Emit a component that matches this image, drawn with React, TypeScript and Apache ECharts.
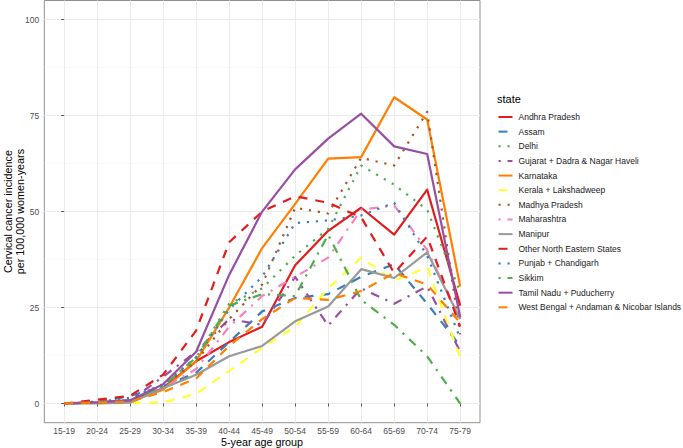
import React, { useEffect, useRef } from "react";
import * as echarts from "echarts";

const ageGroups = ["15-19", "20-24", "25-29", "30-34", "35-39", "40-44", "45-49", "50-54", "55-59", "60-64", "65-69", "70-74", "75-79"];

const stateNames = [
  "Andhra Pradesh",
  "Assam",
  "Delhi",
  "Gujarat + Dadra & Nagar Haveli",
  "Karnataka",
  "Kerala + Lakshadweep",
  "Madhya Pradesh",
  "Maharashtra",
  "Manipur",
  "Other North Eastern States",
  "Punjab + Chandigarh",
  "Sikkim",
  "Tamil Nadu + Puducherry",
  "West Bengal + Andaman & Nicobar Islands",
];

const andhraPradesh = [0, 0.3, 0.8, 4, 11, 16, 20, 36, 45, 51, 44, 55.7, 25.5];
const assam = [0, 0.3, 2, 4.5, 8, 16, 24, 27.5, 28.5, 33, 36.3, 26, 15];
const delhi = [0, 0.3, 0.8, 4.5, 12, 26, 30, 38.5, 45.5, 62, 57, 50.5, 29];
const gujarat = [0, 0.3, 0.8, 7, 13.5, 22, 20.5, 33, 20.3, 30, 26, 30.5, 13.5];
const karnataka = [0, 0.2, 0.5, 3.6, 11, 25, 40.5, 52, 63.8, 64.2, 79.8, 74, 30.5];
const kerala = [0, 0, 0.1, 0.3, 2.5, 8.5, 14.5, 20, 30, 38, 32, 35.5, 12];
const madhyaPradesh = [0, 0.5, 1, 4.5, 11, 22, 31, 51, 49.5, 64, 62, 76, 18];
const maharashtra = [0, 0.3, 0.8, 4, 9, 20, 28, 33, 38, 50.5, 51.6, 40, 22];
const manipur = [0, 0, 0.2, 4, 7.5, 12.3, 15, 21.4, 25.3, 35, 32.7, 39.4, 22];
const otherNorthEastern = [0, 1, 2, 7.5, 19, 42, 50, 54, 52.3, 48.5, 34, 43.5, 20];
const punjab = [0, 0.3, 1.5, 5, 12, 24.5, 33, 47, 47.7, 49, 52.3, 38.5, 17];
const sikkim = [0, 0.3, 0.8, 4.5, 12, 25.5, 28.5, 28, 44, 27, 20.5, 12.3, 0];
const tamilNadu = [0, 0.3, 0.8, 5, 13.5, 33.5, 50, 61, 69, 75.5, 67, 65, 22.5];
const westBengal = [0, 0.3, 0.5, 3, 6.5, 15, 22, 27.5, 27, 29.3, 34, 31, 21];

const seriesValues = [
  andhraPradesh, assam, delhi, gujarat, karnataka, kerala, madhyaPradesh,
  maharashtra, manipur, otherNorthEastern, punjab, sikkim, tamilNadu, westBengal,
];

const yMajorTicks = [0, 25, 50, 75, 100];
const yMinorTicks = [12.5, 37.5, 62.5, 87.5];

// styles
const palette = ["#E41A1C", "#377EB8", "#4DAF4A", "#984EA3", "#FF7F00", "#FFFF33", "#A65628", "#F781BF", "#999999"];
const LW = 2.2;
const dashPatterns: Record<string, any> = {
  solid: "solid",
  dashed: [9, 8],
  dotted: [2.2, 6.8],
  dotdash: [2.2, 6.8, 9, 6.8],
};
const linetypeCycle = ["solid", "dashed", "dotted", "dotdash"];

const FONT = "'Liberation Sans', Arial, sans-serif";

export default function App() {
  const ref = useRef<HTMLDivElement>(null);
  useEffect(() => {
    if (!ref.current) return;
    const chart = echarts.init(ref.current, undefined, { renderer: "svg" });
    const series = stateNames.map((name, k) => ({
      name,
      type: "line",
      xAxisIndex: 0,
      yAxisIndex: 0,
      showSymbol: false,
      symbol: "none",
      silent: true,
      data: seriesValues[k].map((v, i) => [i, v]),
      lineStyle: {
        color: palette[k % palette.length],
        width: LW,
        type: dashPatterns[linetypeCycle[k % 4]],
        cap: "butt",
        join: "round",
      },
      itemStyle: { color: palette[k % palette.length] },
    }));

    chart.setOption({
      animation: false,
      backgroundColor: "#FFFFFF",
      textStyle: { fontFamily: FONT },
      grid: {
        left: 44.3,
        right: 203,
        top: 0.5,
        bottom: 25.3,
        outerBoundsMode: "none",
        show: true,
        borderColor: "#8F8F8F",
        borderWidth: 1,
        backgroundColor: "transparent",
      },
      xAxis: {
        type: "value",
        min: -0.6,
        max: 12.6,
        axisLine: { show: false },
        axisTick: {
          show: true,
          customValues: ageGroups.map((_, i) => i),
          length: 3,
          lineStyle: { color: "#555555", width: 1 },
        },
        axisLabel: {
          customValues: ageGroups.map((_, i) => i),
          formatter: (v: number) => ageGroups[Math.round(v)] ?? "",
          color: "#4D4D4D",
          fontSize: 8.5,
          lineHeight: 9.5,
          margin: 4,
          fontFamily: FONT,
        },
        splitLine: { show: true, lineStyle: { color: "#EBEBEB", width: 1 } },
      },
      yAxis: [
        {
          type: "value",
          min: -5,
          max: 105,
          axisLine: { show: false },
          axisTick: {
            show: true,
            customValues: yMajorTicks,
            length: 3,
            lineStyle: { color: "#555555", width: 1 },
          },
          axisLabel: {
            customValues: yMajorTicks,
            color: "#4D4D4D",
            fontSize: 8.5,
            margin: 5,
            fontFamily: FONT,
          },
          splitLine: { show: true, lineStyle: { color: "#EBEBEB", width: 1 } },
        },
        {
          type: "value",
          min: -5,
          max: 105,
          position: "left",
          axisLine: { show: false },
          axisTick: { show: false, customValues: yMinorTicks },
          axisLabel: { show: false, customValues: yMinorTicks },
          splitLine: { show: true, lineStyle: { color: "#F4F4F4", width: 0.6 } },
        },
      ],
      legend: {
        orient: "vertical",
        left: 497.5,
        top: 112.5,
        padding: 0,
        itemWidth: 14,
        itemHeight: 10,
        itemGap: 5.64,
        selectedMode: false,
        itemStyle: { opacity: 0, borderWidth: 0 },
        textStyle: { fontSize: 8.5, color: "#1A1A1A", fontFamily: FONT, padding: [0, 0, 0, 1] },
        data: stateNames,
      },
      graphic: [
        {
          type: "text",
          left: 497,
          top: 93,
          style: { text: "state", fontSize: 11, fill: "#000000", fontFamily: FONT },
        },
        {
          type: "text",
          x: 262,
          y: 442.3,
          style: {
            text: "5-year age group",
            fontSize: 10.8,
            lineHeight: 11,
            fill: "#000000",
            fontFamily: FONT,
            align: "center",
            verticalAlign: "middle",
          },
        },
        {
          type: "text",
          x: 13.5,
          y: 211.6,
          rotation: Math.PI / 2,
          style: {
            text: "Cervical cancer incidence\nper 100,000 women-years",
            fontSize: 10.8,
            lineHeight: 12,
            fill: "#000000",
            fontFamily: FONT,
            align: "center",
            verticalAlign: "middle",
          },
        },
      ],
      series,
    });
    return () => chart.dispose();
  }, []);
  return (
    <div
      ref={ref}
      style={{ position: "fixed", left: 0, top: 0, width: 683, height: 448, background: "#fff" }}
    />
  );
}
